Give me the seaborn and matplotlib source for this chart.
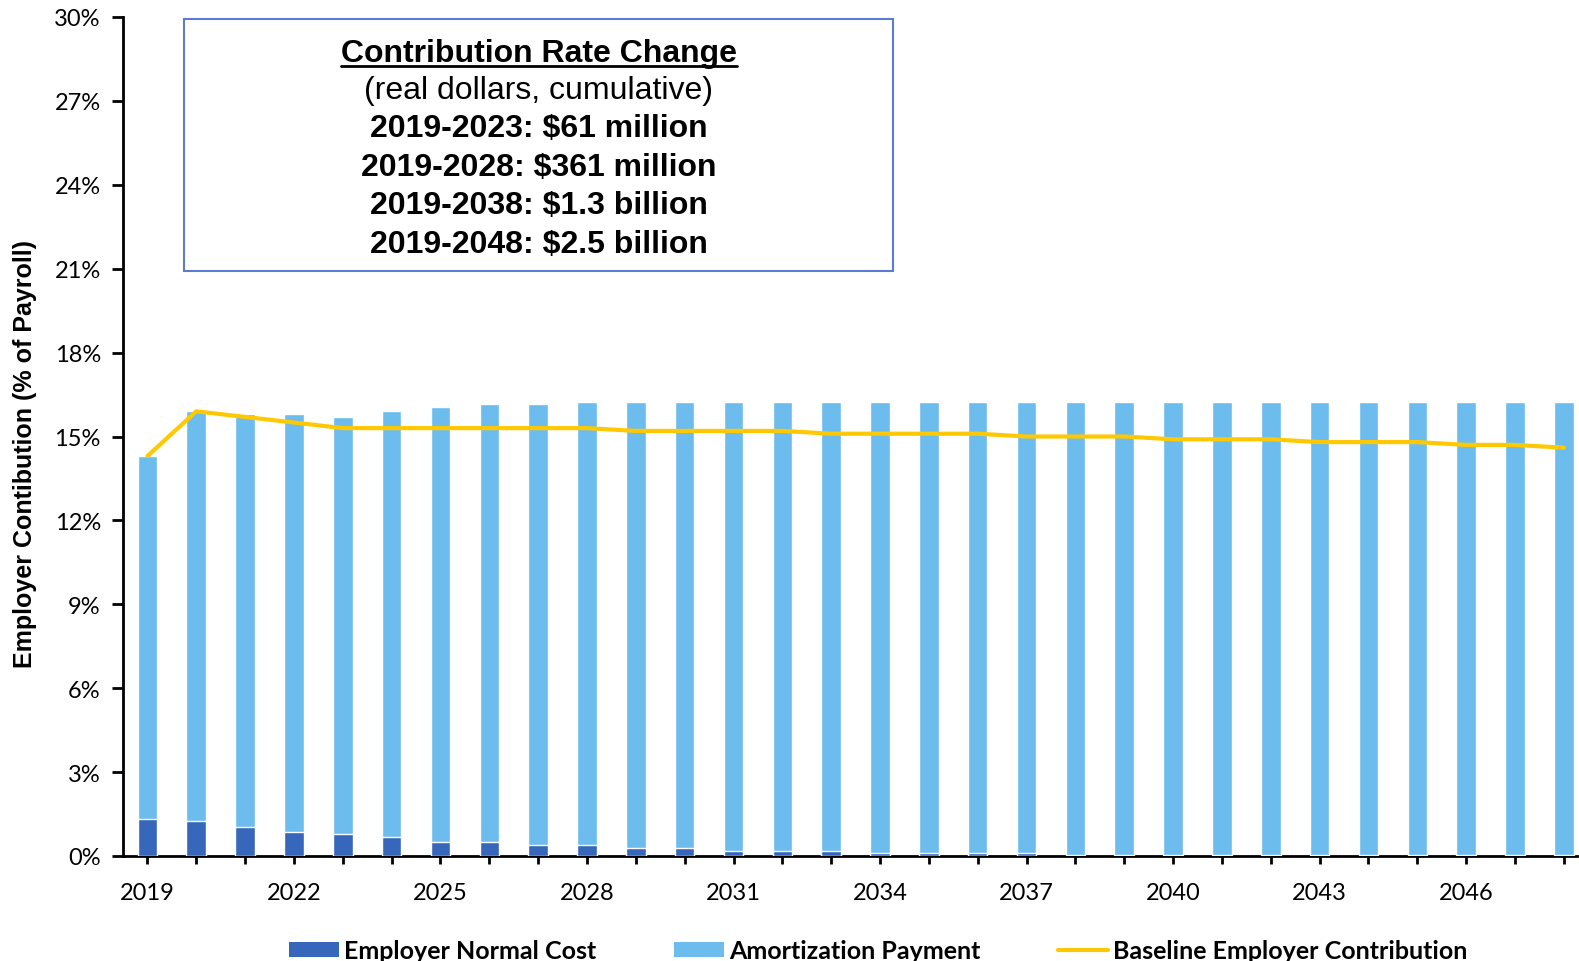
import numpy as np
import pandas as pd
import seaborn as sns
import matplotlib.pyplot as plt
from matplotlib.patches import Patch, Rectangle
from matplotlib.lines import Line2D

# === Data ===
years = list(range(2019, 2049))
total_contribution = [14.3, 15.9, 15.8, 15.8, 15.7, 15.9, 16.05, 16.15, 16.15, 16.25,
                      16.25, 16.25, 16.25, 16.25, 16.25, 16.25, 16.25, 16.25, 16.25, 16.25,
                      16.25, 16.25, 16.25, 16.25, 16.25, 16.25, 16.25, 16.25, 16.25, 16.25]
normal_cost = [1.34, 1.25, 1.05, 0.87, 0.78, 0.69, 0.49, 0.49, 0.39, 0.39,
               0.30, 0.30, 0.19, 0.19, 0.19, 0.11, 0.11, 0.11, 0.11, 0.03,
               0.03, 0.03, 0.03, 0.03, 0.03, 0.03, 0.03, 0.03, 0.03, 0.03]
baseline = [14.3, 15.9, 15.7, 15.5, 15.3, 15.3, 15.3, 15.3, 15.3, 15.3,
            15.2, 15.2, 15.2, 15.2, 15.1, 15.1, 15.1, 15.1, 15.0, 15.0,
            15.0, 14.9, 14.9, 14.9, 14.8, 14.8, 14.8, 14.7, 14.7, 14.6]
box_title = "Contribution Rate Change"
box_lines = ["(real dollars, cumulative)",
             "2019-2023: $61 million",
             "2019-2028: $361 million",
             "2019-2038: $1.3 billion",
             "2019-2048: $2.5 billion"]
legend_labels = ["Employer Normal Cost", "Amortization Payment", "Baseline Employer Contribution"]

dark_blue = "#3767ba"
light_blue = "#6cbdee"
yellow = "#ffc800"

df = pd.DataFrame({"year": years, "total": total_contribution,
                   "normal": normal_cost, "baseline": baseline})
df["pos"] = np.arange(len(df))

sns.set_style("white")
plt.rcParams["font.family"] = ["Lato", "DejaVu Sans"]
plt.rcParams["text.color"] = "black"
plt.rcParams["xtick.color"] = "black"
plt.rcParams["ytick.color"] = "black"
plt.rcParams["axes.labelcolor"] = "black"

W, H = 1579, 962
fig = plt.figure(figsize=(W / 100, H / 100), dpi=100)
ax = fig.add_axes([123 / W, 1 - 857 / H, (1577 - 123) / W, (857 - 18) / H])

# stacked look: full height in light blue, normal cost drawn over it
sns.barplot(data=df, x="year", y="total", color=light_blue, width=0.4,
            saturation=1, ax=ax, zorder=2)
sns.barplot(data=df, x="year", y="normal", color=dark_blue, width=0.4,
            saturation=1, ax=ax, zorder=3)
sns.lineplot(data=df, x="pos", y="baseline", color=yellow, linewidth=3,
             ax=ax, zorder=4)

ax.set_xlim(-0.5, 29.27)
ax.set_ylim(0, 30)
ax.set_yticks(np.arange(0, 31, 3))
ax.set_yticklabels([f"{v}%" for v in range(0, 31, 3)], fontsize=17)
ax.set_xticks(df["pos"])
ax.set_xticklabels([str(y) if i % 3 == 0 else "" for i, y in enumerate(years)], fontsize=17)
ax.set_xlabel("")
ax.set_ylabel("Employer Contibution (% of Payroll)", fontsize=18, fontweight="bold",
              family="Liberation Sans")
ax.yaxis.set_label_coords(-86 / 1454, 0.48)

for side in ["top", "right"]:
    ax.spines[side].set_visible(False)
for side in ["left", "bottom"]:
    ax.spines[side].set_linewidth(2)
    ax.spines[side].set_color("black")
ax.tick_params(axis="y", direction="out", length=8, width=2, pad=8, left=True)
ax.tick_params(axis="x", direction="out", length=6, width=2, pad=13, bottom=True)
ax.grid(False)

# annotation box
fig.patches.append(Rectangle((184 / W, 1 - 272 / H), 709 / W, 252 / H,
                             transform=fig.transFigure, fill=False,
                             edgecolor="#5b7bd5", linewidth=1.5))
cx = 539 / W
title = fig.text(cx, 1 - 54 / H, box_title, ha="center", va="center",
                 fontsize=23, fontweight="bold", family="Liberation Sans")
for k, line in enumerate(box_lines):
    fig.text(cx, 1 - (91 + 38.4 * k) / H, line, ha="center", va="center",
             fontsize=23, fontweight="bold" if k > 0 else "normal",
             family="Liberation Sans")

# underline the box title
fig.canvas.draw()
bb = title.get_window_extent()
fig.add_artist(Line2D([bb.x0, bb.x1], [bb.y0 + 2, bb.y0 + 2], transform=None,
                      color="black", linewidth=2))

handles = [Patch(facecolor=dark_blue, edgecolor="none"),
           Patch(facecolor=light_blue, edgecolor="none"),
           Line2D([], [], color=yellow, linewidth=3)]
fig.legend(handles, legend_labels, loc="center", bbox_to_anchor=(0.556, 1 - 952 / H), ncol=3,
           frameon=False, prop={"family": "Lato", "weight": "bold", "size": 18},
           handlelength=2.0, handleheight=0.56, handletextpad=0.2, columnspacing=3.1)

fig.savefig("out.png", dpi=100)
